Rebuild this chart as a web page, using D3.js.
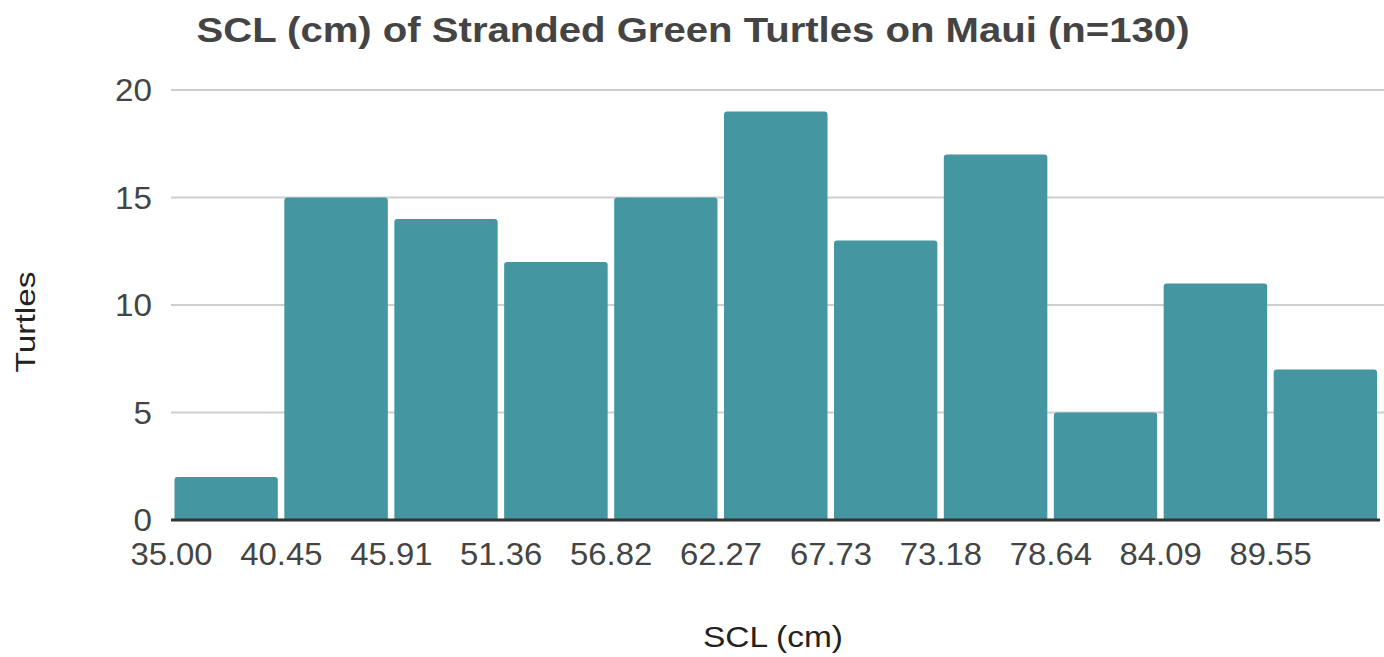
<!DOCTYPE html>
<html>
<head>
<meta charset="utf-8">
<script src="https://cdn.jsdelivr.net/npm/d3@7"></script>
<style>
  html, body { margin: 0; padding: 0; background: #fff; }
  svg text { font-family: "Liberation Sans", Arial, Helvetica, sans-serif; fill: #444; }
</style>
</head>
<body>
<svg id="chart" width="1384" height="657"></svg>
<script>
// bin edges (cm) and turtle counts per bin
var binStarts = [35.00, 40.45, 45.91, 51.36, 56.82, 62.27, 67.73, 73.18, 78.64, 84.09, 89.55];
var binEnd = 95.00;
var counts = [2, 15, 14, 12, 15, 19, 13, 17, 5, 11, 7];
var yTicks = [0, 5, 10, 15, 20];

var title = 'SCL (cm) of Stranded Green Turtles on Maui (n=130)';
var xTitle = 'SCL (cm)';
var yTitle = 'Turtles';

var svg = d3.select('#chart');
var margin = { left: 171, right: 4, top: 90, bottom: 137 };
var width = 1384, height = 657;

var x = d3.scaleLinear()
  .domain([binStarts[0], binEnd])
  .range([margin.left, width - margin.right]);

var y = d3.scaleLinear()
  .domain([0, 20])
  .range([height - margin.bottom, margin.top]);

// the source font runs a little wider than Liberation Sans
function widen(sel, k) {
  sel.each(function() {
    var w = this.getComputedTextLength();
    d3.select(this).attr('textLength', w * k).attr('lengthAdjust', 'spacingAndGlyphs');
  });
}

// gridlines
svg.append('g')
  .selectAll('line')
  .data(yTicks.filter(function(d) { return d > 0; }))
  .enter().append('line')
  .attr('x1', margin.left)
  .attr('x2', width)
  .attr('y1', function(d) { return y(d); })
  .attr('y2', function(d) { return y(d); })
  .attr('stroke', '#cfcfcf')
  .attr('stroke-width', 2);

// bars with slightly rounded tops
var bins = counts.map(function(c, i) {
  return { x0: binStarts[i], x1: i + 1 < binStarts.length ? binStarts[i + 1] : binEnd, n: c };
});

function barPath(d) {
  var l = x(d.x0) + 3.5, r = x(d.x1) - 3, t = y(d.n), b = y(0), rr = 3;
  return 'M' + l + ',' + b +
    'V' + (t + rr) + 'Q' + l + ',' + t + ' ' + (l + rr) + ',' + t +
    'H' + (r - rr) + 'Q' + r + ',' + t + ' ' + r + ',' + (t + rr) +
    'V' + b + 'Z';
}

svg.append('g')
  .selectAll('path')
  .data(bins)
  .enter().append('path')
  .attr('d', barPath)
  .attr('fill', '#4496a0');

// baseline
svg.append('line')
  .attr('x1', margin.left)
  .attr('x2', x(binEnd))
  .attr('y1', y(0))
  .attr('y2', y(0))
  .attr('stroke', '#333')
  .attr('stroke-width', 3);

// y tick labels
var yAxis = d3.axisLeft(y).tickValues(yTicks).tickSize(0).tickPadding(0);
var gy = svg.append('g')
  .attr('transform', 'translate(152,0)')
  .call(yAxis);
gy.select('.domain').remove();
gy.selectAll('text')
  .attr('font-size', 31)
  .attr('font-family', null)
  .attr('fill', '#444')
  .attr('dy', '0.35em')
  .call(widen, 1.07);

// x tick labels
var xAxis = d3.axisBottom(x).tickValues(binStarts).tickFormat(d3.format('.2f')).tickSize(0).tickPadding(0);
var gx = svg.append('g')
  .attr('transform', 'translate(0,' + (y(0) + 23) + ')')
  .call(xAxis);
gx.select('.domain').remove();
gx.selectAll('text')
  .attr('font-size', 31)
  .attr('font-family', null)
  .attr('fill', '#444')
  .attr('dy', '0.71em')
  .call(widen, 1.06);

// titles
svg.append('text')
  .attr('x', 693)
  .attr('y', 42)
  .attr('text-anchor', 'middle')
  .attr('font-size', 35)
  .attr('font-weight', 'bold')
  .attr('textLength', 993)
  .attr('lengthAdjust', 'spacingAndGlyphs')
  .text(title);

svg.append('text')
  .attr('x', 773)
  .attr('y', 647)
  .attr('text-anchor', 'middle')
  .attr('font-size', 30)
  .attr('textLength', 140)
  .attr('lengthAdjust', 'spacingAndGlyphs')
  .style('fill', '#222')
  .text(xTitle);

svg.append('text')
  .attr('transform', 'translate(35,322) rotate(-90)')
  .attr('text-anchor', 'middle')
  .attr('font-size', 28)
  .attr('textLength', 101)
  .attr('lengthAdjust', 'spacingAndGlyphs')
  .style('fill', '#222')
  .text(yTitle);
</script>
</body>
</html>
